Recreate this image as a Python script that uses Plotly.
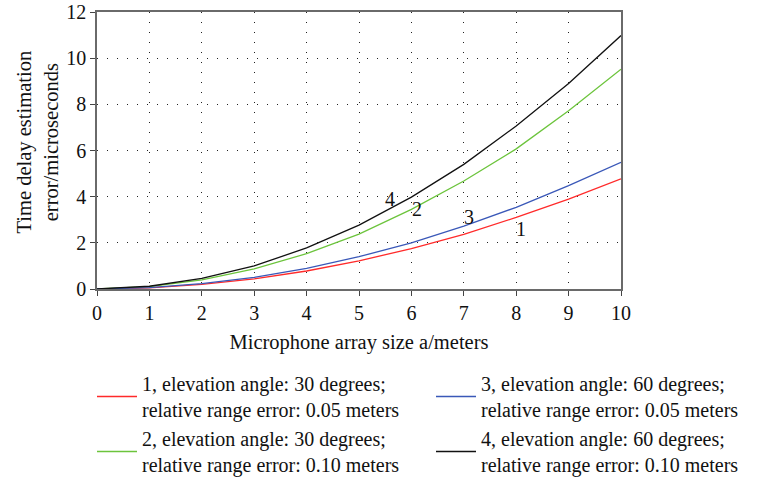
import plotly.graph_objects as go

# Data
array_size = [0, 1, 2, 3, 4, 5, 6, 7, 8, 9, 10]
err_1 = [0, 0.05, 0.20, 0.44, 0.78, 1.22, 1.75, 2.37, 3.10, 3.89, 4.77]
err_2 = [0, 0.10, 0.40, 0.87, 1.53, 2.38, 3.45, 4.68, 6.07, 7.72, 9.52]
err_3 = [0, 0.06, 0.23, 0.50, 0.89, 1.40, 2.00, 2.72, 3.54, 4.48, 5.49]
err_4 = [0, 0.12, 0.46, 1.00, 1.78, 2.77, 3.98, 5.40, 7.06, 8.90, 10.98]

names = [
    "1, elevation angle: 30 degrees;<br>relative range error: 0.05 meters",
    "2, elevation angle: 30 degrees;<br>relative range error: 0.10 meters",
    "3, elevation angle: 60 degrees;<br>relative range error: 0.05 meters",
    "4, elevation angle: 60 degrees;<br>relative range error: 0.10 meters",
]
colors = ["#ff2a2a", "#6cc43c", "#3a58b8", "#111111"]
legends = ["legend", "legend", "legend2", "legend2"]

label_text = ["1", "2", "3", "4"]
label_x = [8.1, 6.1, 7.1, 5.6]
label_y = [2.62, 3.45, 3.1, 3.92]

x_ticks = list(range(0, 11))
y_ticks = [0, 2, 4, 6, 8, 10, 12]

x_title = "Microphone array size a/meters"
y_title = "Time delay estimation<br>error/microseconds"

FONT = "Liberation Serif"
TXT = 20.5

fig = go.Figure()
for i, ys in enumerate([err_1, err_2, err_3, err_4]):
    fig.add_trace(go.Scatter(
        x=array_size, y=ys, mode="lines", name=names[i],
        line=dict(color=colors[i], width=1.3),
        legend=legends[i], legendgroup=str(i),
    ))

for t, lx, ly in zip(label_text, label_x, label_y):
    fig.add_annotation(x=lx, y=ly, text=t, showarrow=False,
                       font=dict(family=FONT, size=20, color="#111"))

# y-axis title (two lines, rotated)
fig.add_annotation(xref="paper", yref="paper", x=-0.114, y=0.53,
                   text=y_title, textangle=-90, showarrow=False,
                   xanchor="center", yanchor="middle",
                   font=dict(family=FONT, size=TXT, color="#111"))

axis_common = dict(
    showline=True, linecolor="#6a6a6a", linewidth=1.5, mirror=True,
    ticks="outside", ticklen=5, tickcolor="#444", tickwidth=1,
    showgrid=True, gridcolor="#222", gridwidth=1, griddash="1px,9px",
    zeroline=False, tickfont=dict(family=FONT, size=20, color="#111"),
    ticklabeloverflow="allow",
)

legend_common = dict(
    xref="container", yref="container", xanchor="left", yanchor="top",
    orientation="v", tracegroupgap=0, itemwidth=40,
    font=dict(family=FONT, size=20), bgcolor="rgba(0,0,0,0)",
)

fig.update_layout(
    width=757, height=479,
    margin=dict(l=97, r=136, t=12, b=190, autoexpand=False),
    paper_bgcolor="white", plot_bgcolor="white",
    font=dict(family=FONT, size=TXT, color="#111"),
    xaxis=dict(range=[0, 10], tickvals=x_ticks, **axis_common,
               title=dict(text=x_title,
                          font=dict(family=FONT, size=TXT), standoff=12)),
    yaxis=dict(range=[0, 12], tickvals=y_ticks, **axis_common),
    legend=dict(x=92/757, y=1-364/479, **legend_common),
    legend2=dict(x=431/757, y=1-364/479, **legend_common),
    showlegend=True,
)

fig.write_html("out.html",
               config={"displayModeBar": False},
               post_script="document.body.style.margin='0';document.body.style.padding='0';")
